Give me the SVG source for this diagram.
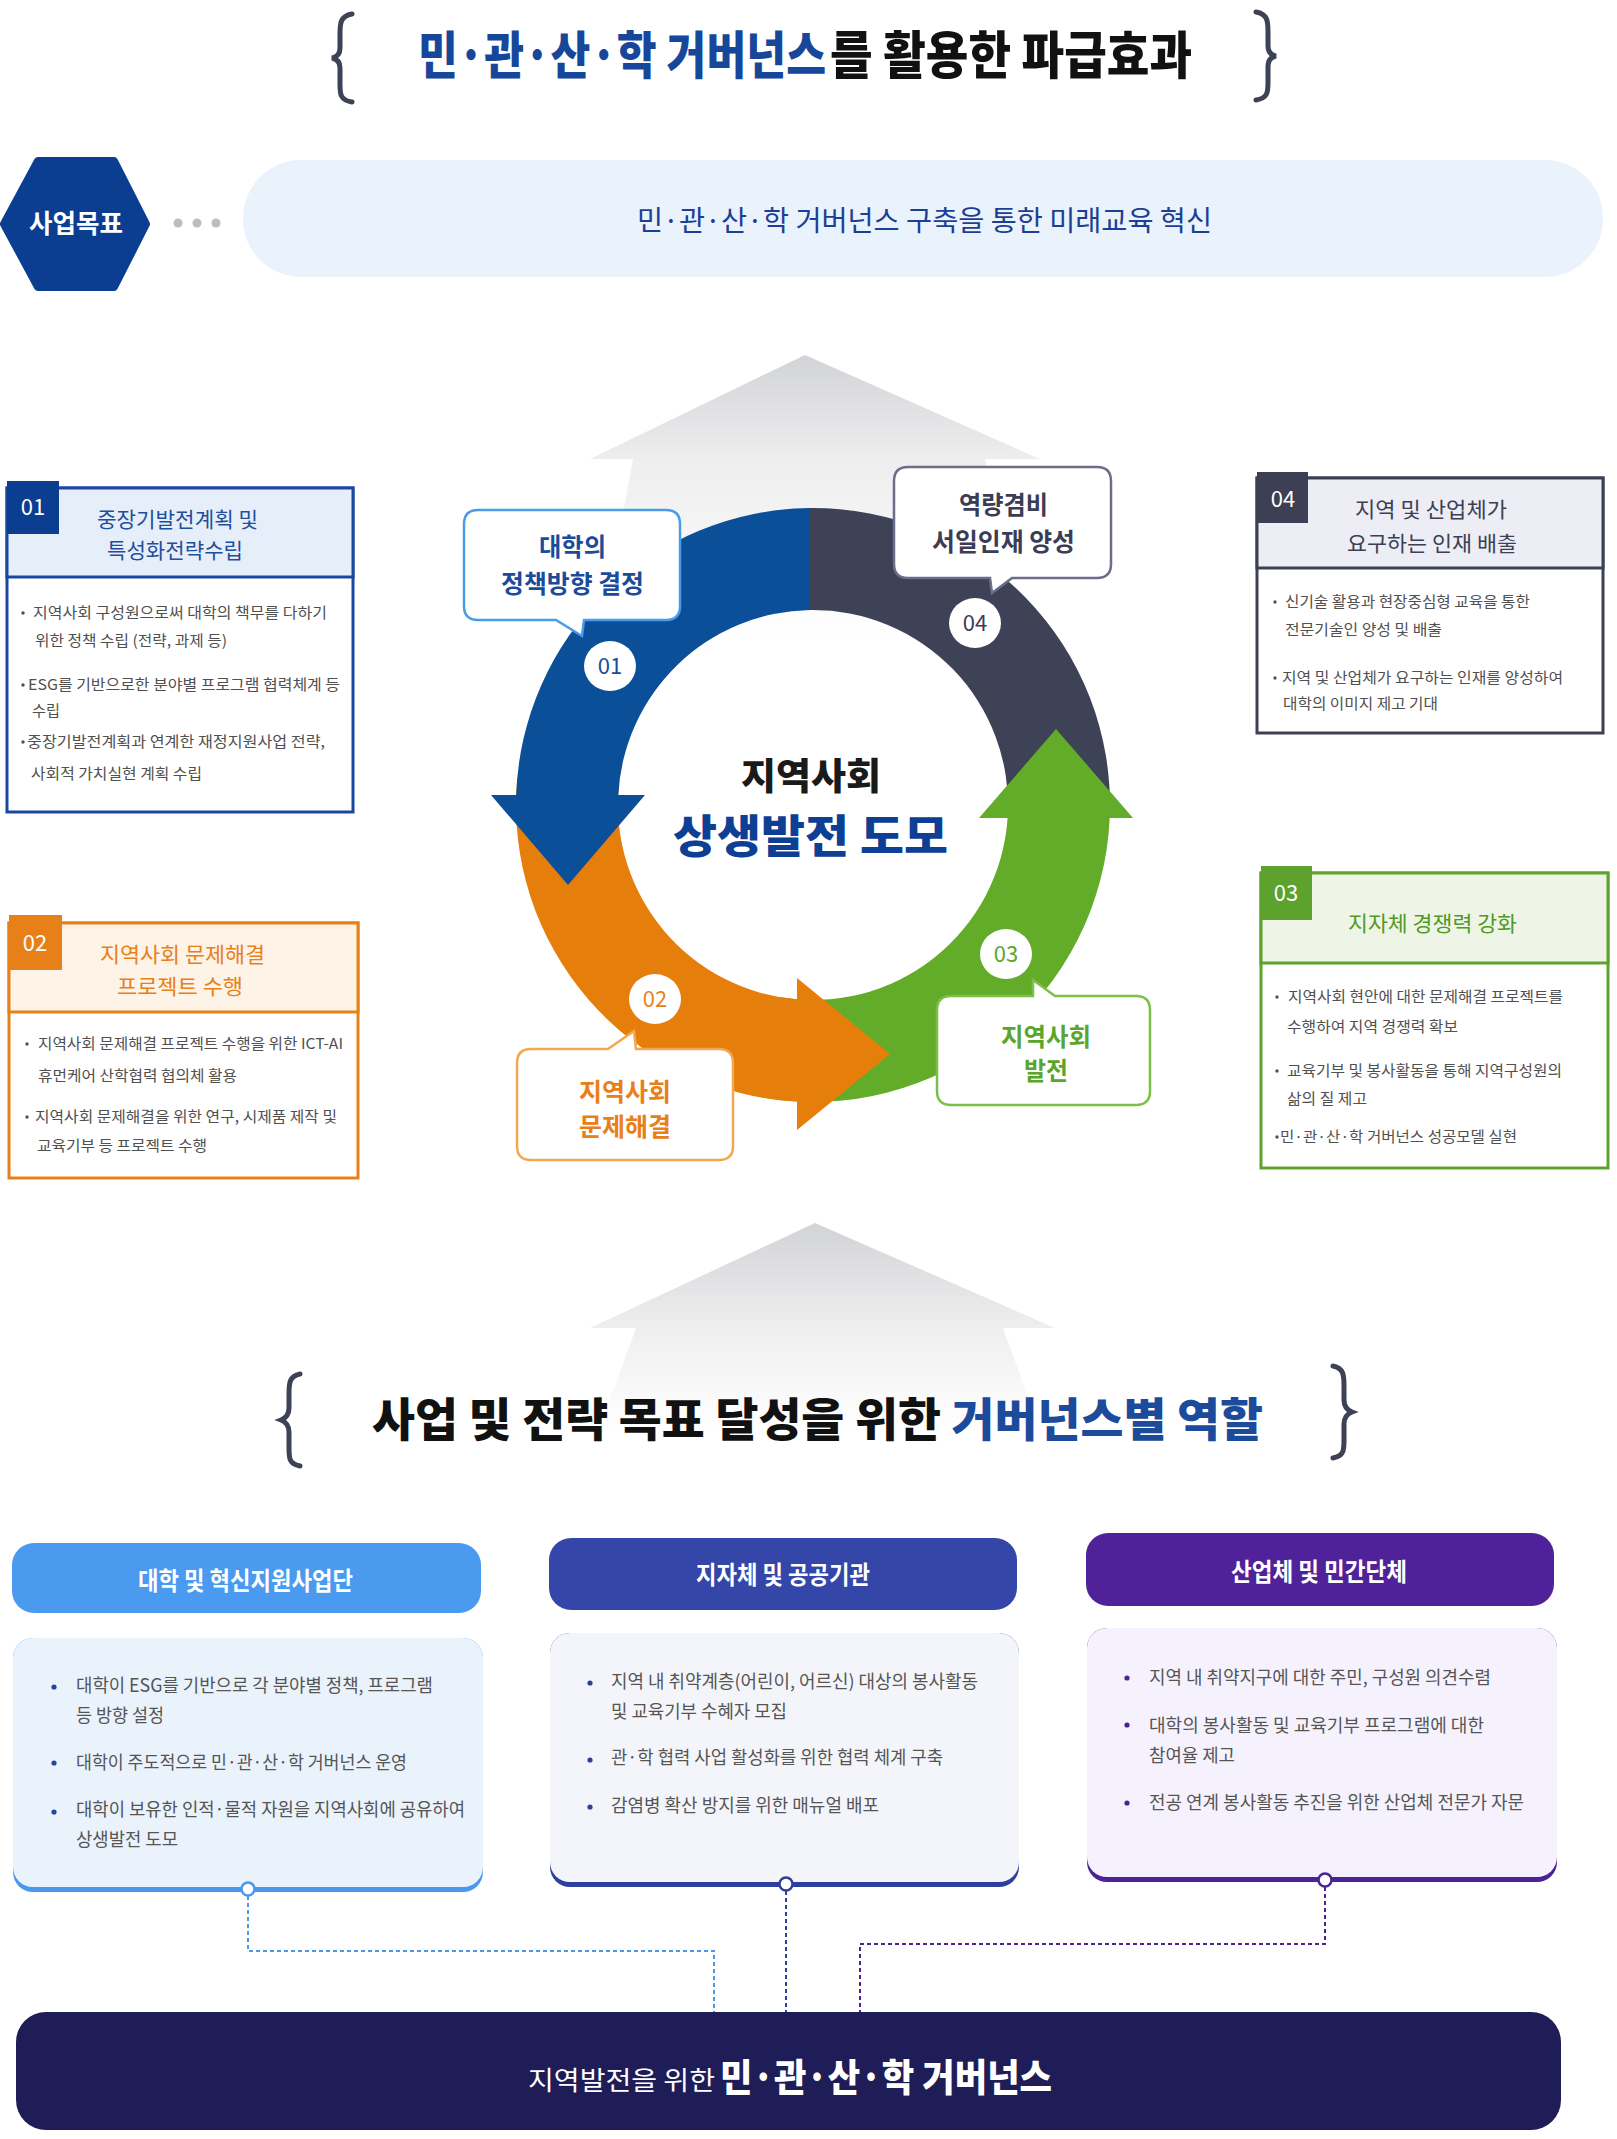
<svg xmlns="http://www.w3.org/2000/svg" width="1617" height="2139" viewBox="0 0 1617 2139">
<defs>
<style>
.kr{font-family:"Noto Sans CJK KR","Noto Sans CJK SC","Noto Sans",sans-serif;}
.b{font-weight:700;}
.bx{font-weight:900;}
.body{font-size:15px;fill:#505050;}
.cbody{font-size:18px;fill:#555555;}
.num{font-size:22px;}
.bub{font-size:25px;font-weight:700;}
.stitle{font-size:21px;}
.chead{font-size:25px;font-weight:700;fill:#ffffff;}
.white{fill:#ffffff;}
.conn{fill:none;stroke-width:2;stroke-dasharray:4 3;}
</style>
<linearGradient id="gArrow1" x1="0" y1="355" x2="0" y2="640" gradientUnits="userSpaceOnUse">
<stop offset="0" stop-color="#d2d3d6"/>
<stop offset="0.37" stop-color="#eeeeef"/>
<stop offset="1" stop-color="#ffffff"/>
</linearGradient>
<linearGradient id="gArrow2" x1="0" y1="1223" x2="0" y2="1430" gradientUnits="userSpaceOnUse">
<stop offset="0" stop-color="#d2d3d6"/>
<stop offset="0.5" stop-color="#eeeeef"/>
<stop offset="1" stop-color="#ffffff"/>
</linearGradient>
</defs>
<rect width="1617" height="2139" fill="#ffffff"/>

<!-- Title -->
<g id="title-top">
<path d="M352 14 C340 16 340 24 340 34 L340 48 C340 54 337 57 332 58 C337 59 340 62 340 68 L340 84 C340 94 340 100 352 102" fill="none" stroke="#3d4255" stroke-width="5" stroke-linecap="round"/>
<path d="M1256 12 C1268 14 1268 22 1268 32 L1268 46 C1268 52 1271 55 1276 56 C1271 57 1268 60 1268 66 L1268 82 C1268 92 1268 98 1256 100" fill="none" stroke="#3d4255" stroke-width="5" stroke-linecap="round"/>
<g transform="translate(0 74) scale(1 1.18)">
<text class="kr bx" x="418" y="0" font-size="43" fill="#17479a" textLength="408" lengthAdjust="spacingAndGlyphs">민·관·산·학 거버넌스</text>
<text class="kr bx" x="830" y="0" font-size="43" fill="#111111" textLength="362" lengthAdjust="spacingAndGlyphs">를 활용한 파급효과</text>
</g>
</g>

<!-- Goal -->
<g id="goal-badge">
<polygon points="38,161 114,161 146,224 114,287 38,287 4,224" fill="#0b3d91" stroke="#0b3d91" stroke-width="8" stroke-linejoin="round"/>
<text class="kr b white" x="29" y="233" font-size="26" textLength="94" lengthAdjust="spacingAndGlyphs">사업목표</text>
</g>
<g id="goal-dots" fill="#bdbdbd">
<circle cx="178" cy="223" r="4.5"/><circle cx="197" cy="223" r="4.5"/><circle cx="216" cy="223" r="4.5"/>
</g>
<g id="goal-text">
<rect x="243" y="160" width="1360" height="117" rx="58" fill="#eaf2fb"/>
<text class="kr" x="637" y="231" font-size="28" fill="#1c3f94" textLength="575" lengthAdjust="spacingAndGlyphs">민·관·산·학 거버넌스 구축을 통한 미래교육 혁신</text>
</g>

<!-- Background arrows -->
<g id="bg-arrow-top">
<polygon points="805,355 1040,459 985,459 1020,640 600,640 633,459 590,459" fill="url(#gArrow1)"/>
</g>

<!-- Cycle -->
<g id="cycle">
<path id="seg-dark" d="M810 508 A297 297 0 0 1 1109.8 815 L1007.7 815 A195 195 0 0 0 810 610 Z" fill="#3e4257"/>
<path id="seg-green" d="M761.4 1097.5 A297 297 0 0 0 1109.7 818 L1133 818 L1056 729 L979 818 L1007.6 818 A195 195 0 0 1 779.1 997 Z" fill="#62ac2a"/>
<path id="seg-orange" d="M517.1 779.1 A297 297 0 0 0 797 1101.6 L797 1130 L890 1054 L797 978 L797 999.3 A195 195 0 0 1 618.7 788 Z" fill="#e67e0c"/>
<path id="seg-blue" d="M810 508 A297 297 0 0 0 516.2 795 L491 795 L568 885 L645 795 L618.3 795 A195 195 0 0 1 810 610 Z" fill="#0b4f99"/>
</g>
<g id="center-text">
<text class="kr bx" x="741" y="790" font-size="37" fill="#1a1a1a" textLength="140" lengthAdjust="spacingAndGlyphs">지역사회</text>
<text class="kr bx" x="673" y="853" font-size="45" fill="#0d3f94" textLength="275" lengthAdjust="spacingAndGlyphs">상생발전 도모</text>
</g>

<g id="bubble-01">
<path d="M478 510 H666 Q680 510 680 524 V606 Q680 620 666 620 H584 L582 636 L556 620 H478 Q464 620 464 606 V524 Q464 510 478 510 Z" fill="#ffffff" stroke="#4a9be8" stroke-width="2.5"/>
<text class="kr bub" x="539" y="556" fill="#1b4b9a" textLength="67" lengthAdjust="spacingAndGlyphs">대학의</text>
<text class="kr bub" x="501" y="593" fill="#1b4b9a" textLength="143" lengthAdjust="spacingAndGlyphs">정책방향 결정</text>
</g>
<g id="badge-01">
<ellipse cx="610" cy="666" rx="26" ry="25" fill="#ffffff"/>
<text class="kr num" x="610" y="674" text-anchor="middle" fill="#1b4b9a">01</text>
</g>
<g id="bubble-04">
<path d="M908 467 H1097 Q1111 467 1111 481 V564 Q1111 578 1097 578 H1012 L992 593 L990 578 H908 Q894 578 894 564 V481 Q894 467 908 467 Z" fill="#ffffff" stroke="#6a6e8a" stroke-width="2.5"/>
<text class="kr bub" x="959" y="514" fill="#3a3d55" textLength="89" lengthAdjust="spacingAndGlyphs">역량겸비</text>
<text class="kr bub" x="932" y="551" fill="#3a3d55" textLength="143" lengthAdjust="spacingAndGlyphs">서일인재 양성</text>
</g>
<g id="badge-04">
<ellipse cx="975" cy="623" rx="26" ry="25" fill="#ffffff"/>
<text class="kr num" x="975" y="631" text-anchor="middle" fill="#3a3d55">04</text>
</g>
<g id="bubble-03">
<path d="M951 996 H1033 L1033 980 L1055 996 H1136 Q1150 996 1150 1010 V1091 Q1150 1105 1136 1105 H951 Q937 1105 937 1091 V1010 Q937 996 951 996 Z" fill="#ffffff" stroke="#7cc04a" stroke-width="2.5"/>
<text class="kr bub" x="1001" y="1046" fill="#5aa62a" textLength="90" lengthAdjust="spacingAndGlyphs">지역사회</text>
<text class="kr bub" x="1024" y="1080" fill="#5aa62a" textLength="44" lengthAdjust="spacingAndGlyphs">발전</text>
</g>
<g id="badge-03">
<ellipse cx="1006" cy="954" rx="26" ry="25" fill="#ffffff"/>
<text class="kr num" x="1006" y="962" text-anchor="middle" fill="#5aa62a">03</text>
</g>
<g id="bubble-02">
<path d="M531 1049 H608 L634 1031 L636 1049 H719 Q733 1049 733 1063 V1146 Q733 1160 719 1160 H531 Q517 1160 517 1146 V1063 Q517 1049 531 1049 Z" fill="#ffffff" stroke="#f2a850" stroke-width="2.5"/>
<text class="kr bub" x="579" y="1101" fill="#e8801a" textLength="92" lengthAdjust="spacingAndGlyphs">지역사회</text>
<text class="kr bub" x="579" y="1136" fill="#e8801a" textLength="92" lengthAdjust="spacingAndGlyphs">문제해결</text>
</g>
<g id="badge-02">
<ellipse cx="655" cy="999" rx="26" ry="25" fill="#ffffff"/>
<text class="kr num" x="655" y="1007" text-anchor="middle" fill="#e8801a">02</text>
</g>

<!-- Side box 01 -->
<g id="box-01">
<rect x="7" y="488" width="346" height="324" fill="#ffffff" stroke="#1a47a0" stroke-width="3"/>
<rect x="7" y="488" width="346" height="89" fill="#e6eef9" stroke="#1a47a0" stroke-width="3"/>
<rect x="7" y="481" width="52" height="53" fill="#0b3d91"/>
<text class="kr num white" x="33" y="515" text-anchor="middle">01</text>
<text class="kr stitle" x="97" y="527" fill="#1f4e9c" textLength="161" lengthAdjust="spacingAndGlyphs">중장기발전계획 및</text>
<text class="kr stitle" x="107" y="558" fill="#1f4e9c" textLength="136" lengthAdjust="spacingAndGlyphs">특성화전략수립</text>
<g fill="#505050"><circle cx="23" cy="613" r="1.7"/><circle cx="23" cy="685" r="1.7"/><circle cx="23" cy="742" r="1.7"/></g>
<text class="kr body" x="33" y="618" textLength="294" lengthAdjust="spacingAndGlyphs">지역사회 구성원으로써 대학의 책무를 다하기</text>
<text class="kr body" x="35" y="646" textLength="192" lengthAdjust="spacingAndGlyphs">위한 정책 수립 (전략, 과제 등)</text>
<text class="kr body" x="28" y="690" textLength="312" lengthAdjust="spacingAndGlyphs">ESG를 기반으로한 분야별 프로그램 협력체계 등</text>
<text class="kr body" x="32" y="716" textLength="28" lengthAdjust="spacingAndGlyphs">수립</text>
<text class="kr body" x="27" y="747" textLength="298" lengthAdjust="spacingAndGlyphs">중장기발전계획과 연계한 재정지원사업 전략,</text>
<text class="kr body" x="31" y="779" textLength="171" lengthAdjust="spacingAndGlyphs">사회적 가치실현 계획 수립</text>
</g>

<!-- Side box 02 -->
<g id="box-02">
<rect x="9" y="923" width="349" height="255" fill="#ffffff" stroke="#e8801a" stroke-width="3"/>
<rect x="9" y="923" width="349" height="89" fill="#fdf3e6" stroke="#e8801a" stroke-width="3"/>
<rect x="9" y="915" width="53" height="55" fill="#e8801a"/>
<text class="kr num white" x="35" y="951" text-anchor="middle">02</text>
<text class="kr stitle" x="100" y="962" fill="#e8801a" textLength="165" lengthAdjust="spacingAndGlyphs">지역사회 문제해결</text>
<text class="kr stitle" x="117" y="994" fill="#e8801a" textLength="126" lengthAdjust="spacingAndGlyphs">프로젝트 수행</text>
<g fill="#505050"><circle cx="27" cy="1044" r="1.7"/><circle cx="27" cy="1117" r="1.7"/></g>
<text class="kr body" x="38" y="1049" textLength="305" lengthAdjust="spacingAndGlyphs">지역사회 문제해결 프로젝트 수행을 위한 ICT-AI</text>
<text class="kr body" x="38" y="1081" textLength="199" lengthAdjust="spacingAndGlyphs">휴먼케어 산학협력 협의체 활용</text>
<text class="kr body" x="35" y="1122" textLength="302" lengthAdjust="spacingAndGlyphs">지역사회 문제해결을 위한 연구, 시제품 제작 및</text>
<text class="kr body" x="37" y="1151" textLength="170" lengthAdjust="spacingAndGlyphs">교육기부 등 프로젝트 수행</text>
</g>

<!-- Side box 04 -->
<g id="box-04">
<rect x="1257" y="478" width="346" height="255" fill="#ffffff" stroke="#3d4055" stroke-width="3"/>
<rect x="1257" y="478" width="346" height="90" fill="#ecedf5" stroke="#3d4055" stroke-width="3"/>
<rect x="1257" y="472" width="51" height="51" fill="#3d4055"/>
<text class="kr num white" x="1283" y="507" text-anchor="middle">04</text>
<text class="kr stitle" x="1355" y="517" fill="#3d3f55" textLength="152" lengthAdjust="spacingAndGlyphs">지역 및 산업체가</text>
<text class="kr stitle" x="1347" y="551" fill="#3d3f55" textLength="170" lengthAdjust="spacingAndGlyphs">요구하는 인재 배출</text>
<g fill="#505050"><circle cx="1275" cy="602" r="1.7"/><circle cx="1275" cy="678" r="1.7"/></g>
<text class="kr body" x="1285" y="607" textLength="245" lengthAdjust="spacingAndGlyphs">신기술 활용과 현장중심형 교육을 통한</text>
<text class="kr body" x="1285" y="635" textLength="157" lengthAdjust="spacingAndGlyphs">전문기술인 양성 및 배출</text>
<text class="kr body" x="1282" y="683" textLength="281" lengthAdjust="spacingAndGlyphs">지역 및 산업체가 요구하는 인재를 양성하여</text>
<text class="kr body" x="1283" y="709" textLength="155" lengthAdjust="spacingAndGlyphs">대학의 이미지 제고 기대</text>
</g>

<!-- Side box 03 -->
<g id="box-03">
<rect x="1261" y="873" width="347" height="295" fill="#ffffff" stroke="#5ca22c" stroke-width="3"/>
<rect x="1261" y="873" width="347" height="90" fill="#eef5e6" stroke="#5ca22c" stroke-width="3"/>
<rect x="1261" y="866" width="51" height="54" fill="#5ca22c"/>
<text class="kr num white" x="1286" y="901" text-anchor="middle">03</text>
<text class="kr stitle" x="1348" y="931" fill="#4e9a25" textLength="169" lengthAdjust="spacingAndGlyphs">지자체 경쟁력 강화</text>
<g fill="#505050"><circle cx="1277" cy="997" r="1.7"/><circle cx="1277" cy="1071" r="1.7"/><circle cx="1277" cy="1137" r="1.7"/></g>
<text class="kr body" x="1288" y="1002" textLength="275" lengthAdjust="spacingAndGlyphs">지역사회 현안에 대한 문제해결 프로젝트를</text>
<text class="kr body" x="1287" y="1032" textLength="171" lengthAdjust="spacingAndGlyphs">수행하여 지역 경쟁력 확보</text>
<text class="kr body" x="1287" y="1076" textLength="275" lengthAdjust="spacingAndGlyphs">교육기부 및 봉사활동을 통해 지역구성원의</text>
<text class="kr body" x="1287" y="1104" textLength="80" lengthAdjust="spacingAndGlyphs">삶의 질 제고</text>
<text class="kr body" x="1280" y="1142" textLength="237" lengthAdjust="spacingAndGlyphs">민·관·산·학 거버넌스 성공모델 실현</text>
</g>

<!-- Second arrow and title -->
<g id="bg-arrow-bottom">
<polygon points="815,1223 1055,1328 1003,1328 1040,1430 599,1430 636,1328 590,1328" fill="url(#gArrow2)"/>
</g>
<g id="title-roles">
<path d="M300 1374 C289 1376 289 1384 289 1394 L289 1408 C289 1414 286 1418 281 1420 C286 1422 289 1426 289 1432 L289 1448 C289 1458 289 1464 300 1466" fill="none" stroke="#3d4255" stroke-width="5" stroke-linecap="round"/>
<path d="M1333 1366 C1344 1368 1344 1376 1344 1386 L1344 1400 C1344 1406 1347 1410 1352 1412 C1347 1414 1344 1418 1344 1424 L1344 1440 C1344 1450 1344 1456 1333 1458" fill="none" stroke="#3d4255" stroke-width="5" stroke-linecap="round"/>
<text class="kr bx" x="372" y="1436" font-size="46" textLength="891" lengthAdjust="spacingAndGlyphs"><tspan fill="#111111">사업 및 전략 목표 달성을 위한 </tspan><tspan fill="#1b4b9a">거버넌스별 역할</tspan></text>
</g>

<!-- Column 1 -->
<g id="col-university">
<rect x="12" y="1543" width="469" height="70" rx="22" fill="#4a9af0"/>
<text class="kr chead" x="138" y="1590" textLength="215" lengthAdjust="spacingAndGlyphs">대학 및 혁신지원사업단</text>
<rect x="13" y="1638" width="470" height="254" rx="20" fill="#4a98ec"/>
<rect x="13" y="1638" width="470" height="249" rx="20" fill="#eaf2fc"/>
<g fill="#1a4a9a"><circle cx="54" cy="1687" r="2.6"/><circle cx="54" cy="1763" r="2.6"/><circle cx="54" cy="1812" r="2.6"/></g>
<text class="kr cbody" x="76" y="1692" textLength="357" lengthAdjust="spacingAndGlyphs">대학이 ESG를 기반으로 각 분야별 정책, 프로그램</text>
<text class="kr cbody" x="76" y="1722" textLength="88" lengthAdjust="spacingAndGlyphs">등 방향 설정</text>
<text class="kr cbody" x="76" y="1769" textLength="331" lengthAdjust="spacingAndGlyphs">대학이 주도적으로 민·관·산·학 거버넌스 운영</text>
<text class="kr cbody" x="76" y="1816" textLength="389" lengthAdjust="spacingAndGlyphs">대학이 보유한 인적·물적 자원을 지역사회에 공유하여</text>
<text class="kr cbody" x="76" y="1846" textLength="102" lengthAdjust="spacingAndGlyphs">상생발전 도모</text>
<circle cx="248" cy="1889" r="6.5" fill="#ffffff" stroke="#4a98ec" stroke-width="2.5"/>
</g>

<!-- Column 2 -->
<g id="col-government">
<rect x="549" y="1538" width="468" height="72" rx="22" fill="#3446a8"/>
<text class="kr chead" x="696" y="1584" textLength="174" lengthAdjust="spacingAndGlyphs">지자체 및 공공기관</text>
<rect x="550" y="1633" width="469" height="254" rx="20" fill="#2e3f9e"/>
<rect x="550" y="1633" width="469" height="249" rx="20" fill="#f4f5fa"/>
<g fill="#2e3f9e"><circle cx="590" cy="1683" r="2.6"/><circle cx="590" cy="1760" r="2.6"/><circle cx="590" cy="1807" r="2.6"/></g>
<text class="kr cbody" x="611" y="1688" textLength="367" lengthAdjust="spacingAndGlyphs">지역 내 취약계층(어린이, 어르신) 대상의 봉사활동</text>
<text class="kr cbody" x="611" y="1718" textLength="176" lengthAdjust="spacingAndGlyphs">및 교육기부 수혜자 모집</text>
<text class="kr cbody" x="611" y="1764" textLength="332" lengthAdjust="spacingAndGlyphs">관·학 협력 사업 활성화를 위한 협력 체계 구축</text>
<text class="kr cbody" x="611" y="1812" textLength="268" lengthAdjust="spacingAndGlyphs">감염병 확산 방지를 위한 매뉴얼 배포</text>
<circle cx="786" cy="1884" r="6.5" fill="#ffffff" stroke="#2e3f9e" stroke-width="2.5"/>
</g>

<!-- Column 3 -->
<g id="col-industry">
<rect x="1086" y="1533" width="468" height="73" rx="22" fill="#50229a"/>
<text class="kr chead" x="1231" y="1581" textLength="176" lengthAdjust="spacingAndGlyphs">산업체 및 민간단체</text>
<rect x="1087" y="1628" width="470" height="254" rx="20" fill="#4b2393"/>
<rect x="1087" y="1628" width="470" height="249" rx="20" fill="#f6f2fd"/>
<g fill="#4b2393"><circle cx="1127" cy="1678" r="2.6"/><circle cx="1127" cy="1725" r="2.6"/><circle cx="1127" cy="1803" r="2.6"/></g>
<text class="kr cbody" x="1149" y="1684" textLength="342" lengthAdjust="spacingAndGlyphs">지역 내 취약지구에 대한 주민, 구성원 의견수렴</text>
<text class="kr cbody" x="1149" y="1732" textLength="335" lengthAdjust="spacingAndGlyphs">대학의 봉사활동 및 교육기부 프로그램에 대한</text>
<text class="kr cbody" x="1149" y="1762" textLength="86" lengthAdjust="spacingAndGlyphs">참여율 제고</text>
<text class="kr cbody" x="1149" y="1809" textLength="375" lengthAdjust="spacingAndGlyphs">전공 연계 봉사활동 추진을 위한 산업체 전문가 자문</text>
<circle cx="1325" cy="1880" r="6.5" fill="#ffffff" stroke="#4b2393" stroke-width="2.5"/>
</g>

<!-- Connectors -->
<g id="connectors">
<path class="conn" d="M248 1896 V1951 H714 V2012" stroke="#4a98ec"/>
<path class="conn" d="M786 1891 V2012" stroke="#2e3f9e"/>
<path class="conn" d="M1325 1887 V1944 H860 V2012" stroke="#4b2393"/>
</g>

<!-- Bottom bar -->
<g id="governance-bar">
<rect x="16" y="2012" width="1545" height="118" rx="30" fill="#1f1d57"/>
<text class="kr white" x="528" y="2090" font-size="26" textLength="187" lengthAdjust="spacingAndGlyphs">지역발전을 위한</text>
<text class="kr bx white" x="720" y="2091" font-size="38" textLength="332" lengthAdjust="spacingAndGlyphs">민·관·산·학 거버넌스</text>
</g>
</svg>
